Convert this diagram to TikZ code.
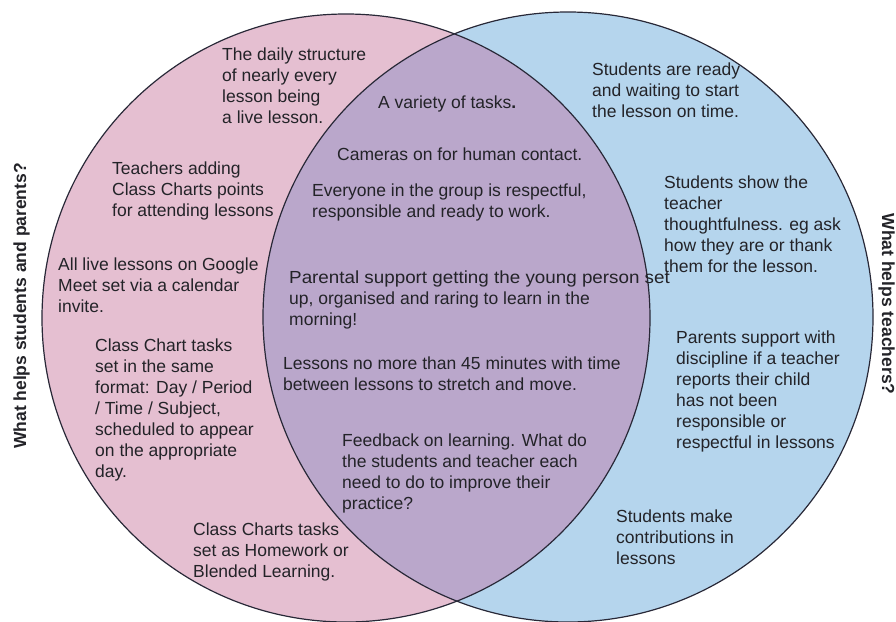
\documentclass[tikz,border=0pt]{standalone}
\usepackage{graphicx}
\usepackage{fontspec}
\setmainfont{Liberation Sans}
\definecolor{pinkc}{RGB}{229,191,209}
\definecolor{bluec}{RGB}{181,213,237}
\definecolor{overlapc}{RGB}{186,167,203}
\definecolor{linec}{RGB}{40,40,55}
\definecolor{txtc}{RGB}{35,35,40}
\begin{document}
\begin{tikzpicture}[x=1pt,y=-1pt,
  txt/.style={anchor=north west, inner sep=0pt, align=left, text=txtc,
    font=\fontsize{17.5}{21}\selectfont, execute at begin node={\rule{0pt}{14pt}}},
  ring/.style={draw=linec, line width=1.2pt},
  lab/.style={font=\bfseries\fontsize{17.5}{21}\selectfont, text=txtc, inner sep=0pt, anchor=base}]
\useasboundingbox (0,0) rectangle (896,621);
\coordinate (cl) at (346,318);
\coordinate (cr) at (568,317);
\fill[pinkc] (cl) circle[radius=304pt];
\fill[bluec] (cr) circle[radius=305pt];
\begin{scope}
  \clip (cl) circle[radius=304pt];
  \fill[overlapc] (cr) circle[radius=305pt];
\end{scope}
\draw[ring] (cl) circle[radius=304pt];
\draw[ring] (cr) circle[radius=305pt];

\node[lab, rotate=90] (ql) at (26,306) {What helps students and parents?};
\node[lab, rotate=-90] (qr) at (882,304) {What helps teachers?};

\node[txt] (t1) at (222,48) {The daily structure\\of nearly every\\lesson being\\a live lesson.};
\node[txt] (t2) at (378,94) {A variety of tasks\textbf{.}};
\node[txt] (t3) at (337,146) {Cameras on for human contact.};
\node[txt] (t4) at (312,184) {Everyone in the group is respectful,\\responsible and ready to work.};
\node[txt] (t5) at (112,162) {Teachers adding\\Class Charts points\\for attending lessons};
\node[txt] (t6) at (58,258) {All live lessons on Google\\Meet set via a calendar\\invite.};
\node[txt] (t7) at (289,271) {\scalebox{1.075}[1]{Parental support getting the young person set}\\up, organised and raring to learn in the\\morning!};
\node[txt] (t8) at (95,339) {Class Chart tasks\\set in the same\\format: Day / Period\\/ Time / Subject,\\scheduled to appear\\on the appropriate\\day.};
\node[txt] (t9) at (283,357) {Lessons no more than 45 minutes with time\\between lessons to stretch and move.};
\node[txt] (t10) at (342,434) {Feedback on learning. What do\\the students and teacher each\\need to do to improve their\\practice?};
\node[txt] (t11) at (193,523) {Class Charts tasks\\set as Homework or\\Blended Learning.};
\node[txt] (t12) at (592,63) {Students are ready\\and waiting to start\\the lesson on time.};
\node[txt] (t13) at (664,176) {Students show the\\teacher\\thoughtfulness. eg ask\\how they are or thank\\them for the lesson.};
\node[txt] (t14) at (676,331) {Parents support with\\discipline if a teacher\\reports their child\\has not been\\responsible or\\respectful in lessons};
\node[txt] (t15) at (616,510) {Students make\\contributions in\\lessons};
\end{tikzpicture}
\end{document}
